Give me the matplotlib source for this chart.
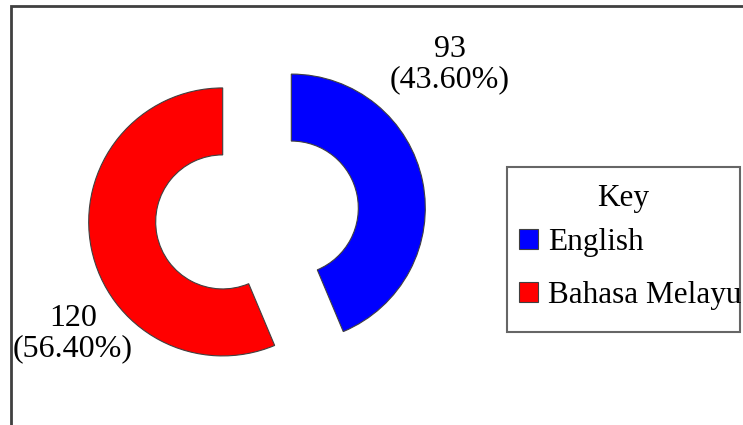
import matplotlib.pyplot as plt
from matplotlib.patches import Rectangle

plt.rcParams['font.family'] = ['Liberation Serif', 'DejaVu Serif']

languages = ["English", "Bahasa Melayu"]
counts = [93, 120]
pct_labels = ["43.60%", "56.40%"]
colors = ["#0000ff", "#ff0000"]

W, H = 743, 425
fig = plt.figure(figsize=(W / 100, H / 100), dpi=100)
ax = fig.add_axes([0, 0, 1, 1])

# donut, two slices pulled apart
wedges, _ = ax.pie(counts, colors=colors, startangle=90, counterclock=False,
                   center=(257, 210), radius=134, explode=[35, 35],
                   wedgeprops=dict(width=67, edgecolor="#404040", linewidth=0.8))
ax.set_xlim(0, W)
ax.set_ylim(0, H)
ax.set_aspect("equal")
ax.axis("off")

# value labels
label_pos = [(450, 360), (73, 91)]
for (x, y), c, p in zip(label_pos, counts, pct_labels):
    ax.text(x, y, f"{c}\n({p})", ha="center", va="center", fontsize=23,
            linespacing=1.05)

# legend (title drawn separately so it sits centred in the box)
ax.text(623, H - 198, "Key", ha="center", va="center", fontsize=22.5)
leg = ax.legend(wedges, languages, loc="upper left",
                bbox_to_anchor=(519, H - 228), bbox_transform=ax.transData,
                frameon=False, fontsize=22.5,
                handlelength=0.6, handleheight=0.6, handletextpad=0.32,
                labelspacing=0.78, borderpad=0, borderaxespad=0)
ax.add_patch(Rectangle((507, H - 332), 233, 165, fill=False,
                       edgecolor="#666666", lw=1.5, clip_on=False))

# outer border
ax.add_patch(Rectangle((11, -20), 800, H - 6 + 20, fill=False,
                       edgecolor="#404040", lw=2, clip_on=False))

fig.savefig("out.png", dpi=100)
